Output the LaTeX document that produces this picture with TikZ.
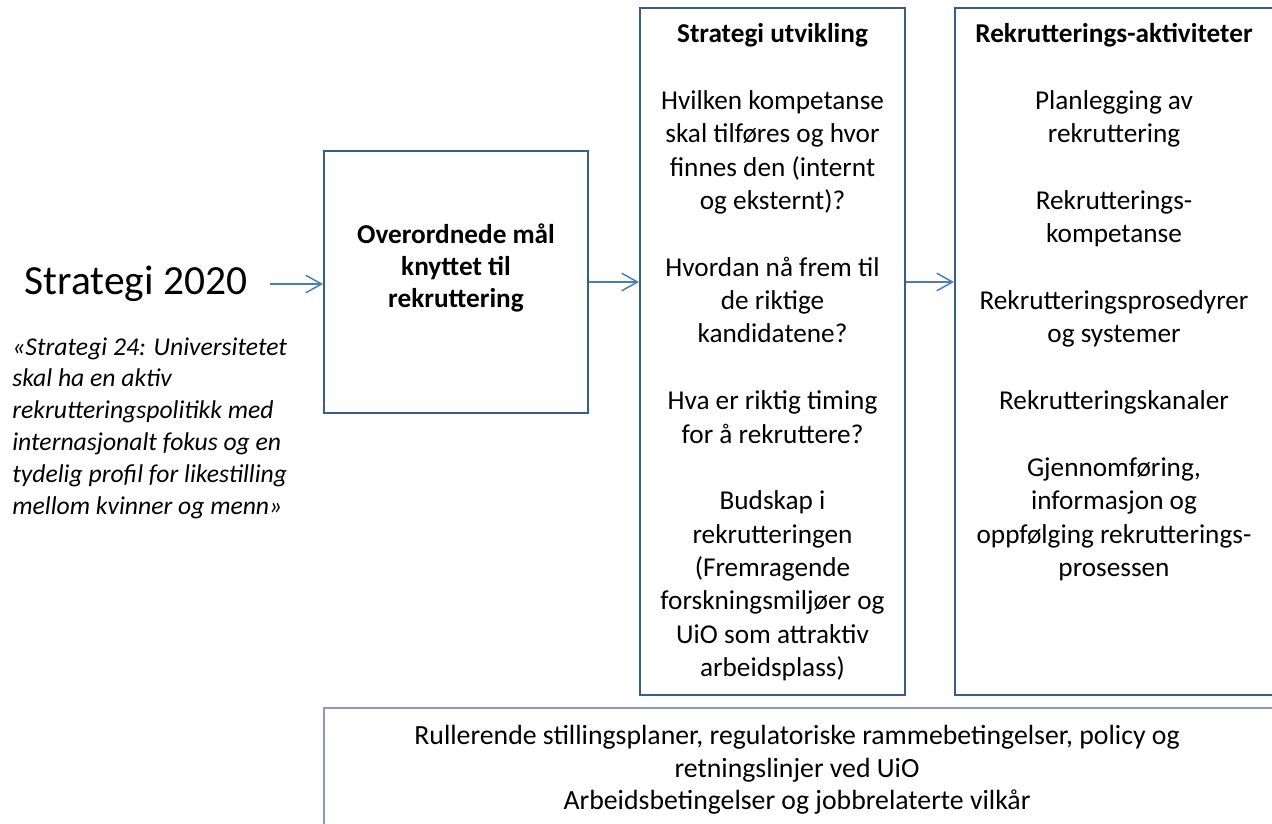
\documentclass[tikz,border=0pt]{standalone}
\usepackage{fontspec}
\setmainfont{Carlito}
\usepackage{xcolor}
\usepackage{tikz}
\usetikzlibrary{arrows.meta,positioning}
\definecolor{boxblue}{HTML}{385D8A}
\definecolor{arrblue}{HTML}{4A7EBB}
\definecolor{greyblue}{HTML}{8C9BB3}

\begin{document}
\begin{tikzpicture}[
    x=0.02cm, y=-0.02cm,
    box/.style={rectangle, draw=boxblue, line width=1.1pt, inner sep=0pt},
    base/.style={rectangle, draw=greyblue, line width=0.9pt, inner sep=0pt},
    txt/.style={align=center, inner sep=0pt, font=\fontsize{15.5}{19}\selectfont},
    arr/.style={-{Straight Barb[length=9pt,width=10pt]}, draw=arrblue, line width=0.85pt},
    every node/.style={text=black}
]
\useasboundingbox (0,0) rectangle (1272,823);
\clip (0,0) rectangle (1272,823);

% boxes
\node[box, minimum width=5.28cm, minimum height=5.24cm] (goal) at (456,282) {};
\node[box, minimum width=5.30cm, minimum height=13.74cm] (strat) at (772.5,351.5) {};
\node[box, minimum width=6.38cm, minimum height=13.74cm] (akt) at (1114.5,351.5) {};
\node[base, minimum width=19.5cm, minimum height=3cm] (frame) at (811.5,783) {};

% left side
\node[inner xsep=0.44cm, inner ysep=0pt, font=\fontsize{23.6}{28}\selectfont] (s2020) at (136,284) {Strategi 2020};
\node[anchor=north west, align=left, inner sep=0pt, font=\fontsize{14.6}{18.2}\selectfont\itshape] (quote) at (12,337)
    {«Strategi 24: Universitetet\\skal ha en aktiv\\rekrutteringspolitikk med\\internasjonalt fokus og en\\tydelig profil for likestilling\\mellom kvinner og menn»};

% box texts
\node[txt, font=\fontsize{15.5}{18.4}\selectfont\bfseries] (goaltxt) at (456,268)
    {Overordnede mål\\knyttet til\\rekruttering};
\node[txt, anchor=north] (strattxt) at (772.5,23)
    {\textbf{Strategi utvikling}\\[19pt]
     Hvilken kompetanse\\skal tilføres og hvor\\finnes den (internt\\og eksternt)?\\[19pt]
     Hvordan nå frem til\\de riktige\\kandidatene?\\[19pt]
     Hva er riktig timing\\for å rekruttere?\\[19pt]
     Budskap i\\rekrutteringen\\(Fremragende\\forskningsmiljøer og\\UiO som attraktiv\\arbeidsplass)};
\node[txt, anchor=north] (akttxt) at (1114,23)
    {\textbf{Rekrutterings-aktiviteter}\\[19pt]
     Planlegging av\\rekruttering\\[19pt]
     Rekrutterings-\\kompetanse\\[19pt]
     Rekrutteringsprosedyrer\\og systemer\\[19pt]
     Rekrutteringskanaler\\[19pt]
     Gjennomføring,\\informasjon og\\oppfølging rekrutterings-\\prosessen};
\node[txt, anchor=north, font=\fontsize{15.8}{18.5}\selectfont] (basetxt) at (797,725)
    {Rullerende stillingsplaner, regulatoriske rammebetingelser, policy og\\retningslinjer ved UiO\\Arbeidsbetingelser og jobbrelaterte vilkår};

% arrows
\draw[arr] (s2020.east) -- (s2020.east -| goal.west);
\draw[arr] (goal.east) -- (goal.east -| strat.west);
\draw[arr] (goal.east -| strat.east) -- (goal.east -| akt.west);
\end{tikzpicture}
\end{document}
